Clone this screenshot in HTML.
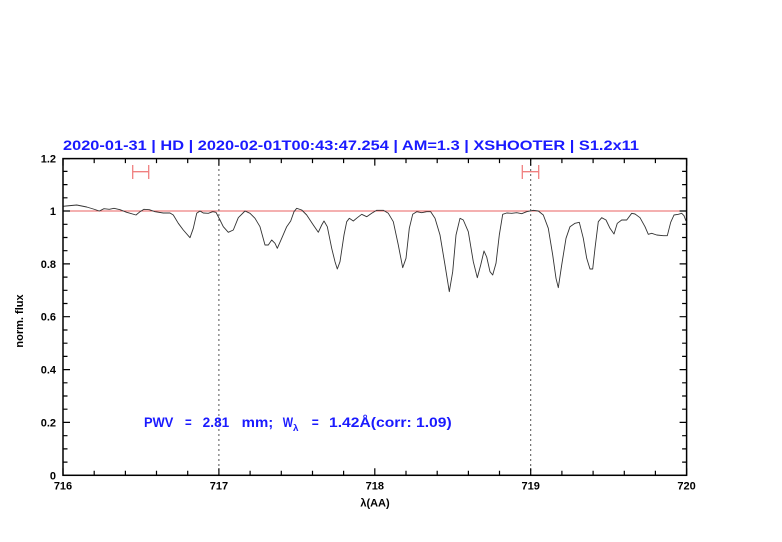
<!DOCTYPE html>
<html><head><meta charset="utf-8"><style>
html,body{margin:0;padding:0;background:#fff;}
svg{display:block;}
text{font-family:"Liberation Sans",sans-serif;}
</style></head><body>
<svg width="782" height="542" viewBox="0 0 782 542" xmlns="http://www.w3.org/2000/svg">
<rect width="782" height="542" fill="#fff"/>
<!-- title -->
<text x="63" y="150" font-size="13.5" font-weight="bold" fill="#1a1aff" textLength="576" lengthAdjust="spacingAndGlyphs" xml:space="preserve">2020-01-31 | HD | 2020-02-01T00:43:47.254 | AM=1.3 | XSHOOTER | S1.2x11</text>
<!-- ref line at 1 -->
<line x1="63" y1="211" x2="686.6" y2="211" stroke="#e86060" stroke-width="1"/>
<!-- dotted verticals -->
<line x1="218.9" y1="159" x2="218.9" y2="475" stroke="#555" stroke-width="1" stroke-dasharray="2,3"/>
<line x1="530.7" y1="159" x2="530.7" y2="475" stroke="#555" stroke-width="1" stroke-dasharray="2,3"/>
<!-- error bars -->
<g stroke="#f08080" stroke-width="1.3" fill="none">
<line x1="132.7" y1="171.7" x2="148.7" y2="171.7"/>
<line x1="132.7" y1="165" x2="132.7" y2="179"/>
<line x1="148.7" y1="165" x2="148.7" y2="179"/>
<line x1="522.3" y1="171.7" x2="538.7" y2="171.7"/>
<line x1="522.3" y1="165" x2="522.3" y2="179"/>
<line x1="538.7" y1="165" x2="538.7" y2="179"/>
</g>
<!-- spectrum -->
<polyline fill="none" stroke="#333" stroke-width="0.9" stroke-linejoin="round" points="63,206.3 66,206 76.7,205 86.7,207 93.3,209 99.3,211 104,208.7 109.3,209.3 114,208.3 120,209.7 126.7,212.3 136,215 140,211.7 144,209.3 149.3,209.7 155,211.7 163.3,213 170,213 173.3,215 178.3,223.3 183.3,230 190,237.7 193.3,228.3 196.7,213.3 200,211 203.3,213 208.3,213.3 212.7,211.7 216,212.3 220,220 223.3,226.7 228.3,232.3 233.3,230 238.3,217.7 245,211 250,213.3 255,218.3 260,226.7 265,245 268.3,245 271.7,240 275,243.3 277.3,248.3 281.7,238.3 286.7,226.7 290.7,221 294,211.7 296.7,208.3 301.7,210 306.7,215 313.3,225 318.3,232.3 321.7,225 324,221 327.3,226.7 331.7,248.3 335,261.7 337.3,269 340,261.7 344,235 346.7,221.7 349.3,218.3 353.3,221 357.3,217.7 361.7,214.3 366.7,216.7 371.7,213.3 376.7,210.3 383.3,210.3 388.3,213.3 393.3,221.7 398.3,245 402.7,267.7 406,258.3 409.3,228.3 412.7,214.3 416.7,211.7 421.7,212.7 426.7,211.7 430.7,211.7 435,218.3 440,235 445,265 449.3,291.7 452.7,271.7 456,235 460,218.3 463.3,220 468.3,231.7 473.3,261.7 477.3,277.7 480.7,265 484,251 486.7,257 490,271.7 492.7,275 496,263.3 499.3,235 502.7,214.3 506.7,213 511.7,213.3 516.7,212.7 521.7,213.7 526.7,211.7 533.3,210.3 538.3,211 543.3,215 548.3,228.3 552.7,255 556,278.3 558.3,287.7 561.7,265 566,238.3 570,226.7 575,223.3 579.3,222.3 583.3,238.3 586.7,258.3 590,269 592.7,269 595,248.3 598.3,221.7 601.7,217.7 606,220 610,228.3 614,234 617.3,223.3 621.7,220 626.7,220 631.7,213.3 635,214 640,217.7 645,226.7 648.3,234.3 651.7,233.3 656.7,235 663.3,235.7 667.3,235.7 670.7,222.3 674,215 678.3,214.3 681.7,213.3 684,215.7 686,221"/>
<!-- axes box -->
<rect x="63" y="158.6" width="623.6" height="316.7" fill="none" stroke="#000" stroke-width="1.5"/>
<!-- ticks -->
<g stroke="#000" stroke-width="1.2">
<path d="M63,475.3v-7M94.2,475.3v-4.5M125.4,475.3v-4.5M156.5,475.3v-4.5M187.7,475.3v-4.5M218.9,475.3v-7M250.1,475.3v-4.5M281.3,475.3v-4.5M312.5,475.3v-4.5M343.6,475.3v-4.5M374.8,475.3v-7M406,475.3v-4.5M437.2,475.3v-4.5M468.4,475.3v-4.5M499.5,475.3v-4.5M530.7,475.3v-7M561.9,475.3v-4.5M593.1,475.3v-4.5M624.3,475.3v-4.5M655.4,475.3v-4.5M686.6,475.3v-7"/>
<path d="M63,158.6v7M94.2,158.6v4.5M125.4,158.6v4.5M156.5,158.6v4.5M187.7,158.6v4.5M218.9,158.6v7M250.1,158.6v4.5M281.3,158.6v4.5M312.5,158.6v4.5M343.6,158.6v4.5M374.8,158.6v7M406,158.6v4.5M437.2,158.6v4.5M468.4,158.6v4.5M499.5,158.6v4.5M530.7,158.6v7M561.9,158.6v4.5M593.1,158.6v4.5M624.3,158.6v4.5M655.4,158.6v4.5M686.6,158.6v7"/>
<path d="M63,475.3h7M63,462.1h4.5M63,448.9h4.5M63,435.7h4.5M63,422.4h7M63,409.2h4.5M63,396h4.5M63,382.8h4.5M63,369.6h7M63,356.4h4.5M63,343.2h4.5M63,330h4.5M63,316.7h7M63,303.5h4.5M63,290.3h4.5M63,277.1h4.5M63,263.9h7M63,250.7h4.5M63,237.5h4.5M63,224.3h4.5M63,211h7M63,197.8h4.5M63,184.6h4.5M63,171.4h4.5M63,158.6h7"/>
<path d="M686.6,475.3h-7M686.6,462.1h-4.5M686.6,448.9h-4.5M686.6,435.7h-4.5M686.6,422.4h-7M686.6,409.2h-4.5M686.6,396h-4.5M686.6,382.8h-4.5M686.6,369.6h-7M686.6,356.4h-4.5M686.6,343.2h-4.5M686.6,330h-4.5M686.6,316.7h-7M686.6,303.5h-4.5M686.6,290.3h-4.5M686.6,277.1h-4.5M686.6,263.9h-7M686.6,250.7h-4.5M686.6,237.5h-4.5M686.6,224.3h-4.5M686.6,211h-7M686.6,197.8h-4.5M686.6,184.6h-4.5M686.6,171.4h-4.5M686.6,158.6h-7"/>
</g>
<!-- y tick labels -->
<g font-size="11" font-weight="bold" fill="#000" text-anchor="end">
<text x="56" y="162.5">1.2</text>
<text x="56" y="215">1</text>
<text x="56" y="268">0.8</text>
<text x="56" y="320.7">0.6</text>
<text x="56" y="373.6">0.4</text>
<text x="56" y="426.4">0.2</text>
<text x="56" y="479.3">0</text>
</g>
<!-- x tick labels -->
<g font-size="11" font-weight="bold" fill="#000" text-anchor="middle">
<text x="63" y="489.5">716</text>
<text x="218.9" y="489.5">717</text>
<text x="374.8" y="489.5">718</text>
<text x="530.7" y="489.5">719</text>
<text x="686.6" y="489.5">720</text>
<text x="375" y="506.5">λ(AA)</text>
</g>
<text transform="translate(23,321) rotate(-90)" font-size="11" font-weight="bold" text-anchor="middle" fill="#000">norm. flux</text>
<!-- annotation -->
<g font-size="13.5" font-weight="bold" fill="#1a1aff">
<text x="144" y="427" textLength="29.3" lengthAdjust="spacingAndGlyphs">PWV</text>
<text x="185" y="427" textLength="6.7" lengthAdjust="spacingAndGlyphs">=</text>
<text x="202.7" y="427" textLength="26.6" lengthAdjust="spacingAndGlyphs">2.81</text>
<text x="241.7" y="427" textLength="31.6" lengthAdjust="spacingAndGlyphs">mm;</text>
<text x="282.7" y="427" textLength="10.3" lengthAdjust="spacingAndGlyphs">W</text>
<text x="293" y="431" font-size="9" textLength="5.5" lengthAdjust="spacingAndGlyphs">λ</text>
<text x="311.7" y="427" textLength="7" lengthAdjust="spacingAndGlyphs">=</text>
<text x="329" y="427" textLength="122.7" lengthAdjust="spacingAndGlyphs" xml:space="preserve">1.42Å(corr: 1.09)</text>
</g>
</svg>
</body></html>
